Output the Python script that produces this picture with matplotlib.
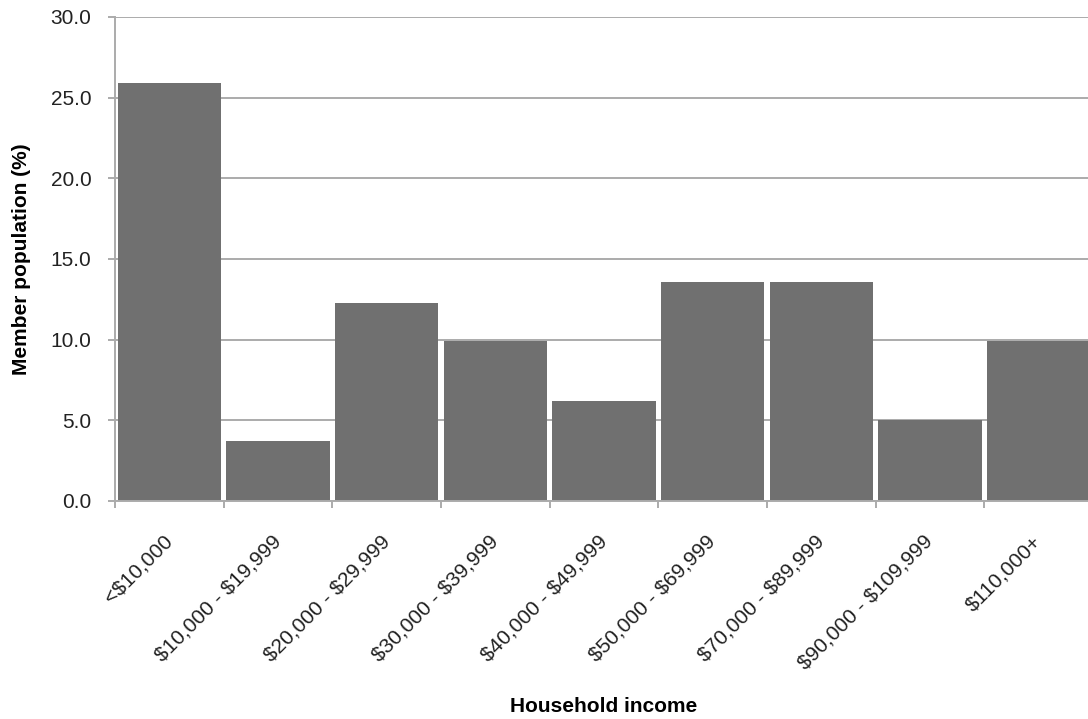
import matplotlib
matplotlib.use("Agg")
import matplotlib.pyplot as plt
import numpy as np

plt.rcParams['font.family'] = ['Liberation Sans', 'DejaVu Sans']

# data
categories = ['<$10,000', '$10,000 - $19,999', '$20,000 - $29,999', '$30,000 - $39,999',
              '$40,000 - $49,999', '$50,000 - $69,999', '$70,000 - $89,999',
              '$90,000 - $109,999', '$110,000+']
population = [25.9, 3.7, 12.3, 9.9, 6.2, 13.6, 13.6, 5.0, 9.9]
y_ticks = [0, 5, 10, 15, 20, 25, 30]

grid_col = '#ababab'

fig = plt.figure(figsize=(10.88, 7.19), dpi=100)
# right edge of the axes runs a bit past the image, as in the reference
ax = fig.add_axes([115 / 1088, 1 - 501 / 719, 978 / 1088, 484 / 719])

x = np.arange(len(categories))
ax.bar(x, population, width=0.95, color='#707070', zorder=2)

ax.set_xlim(-0.5, len(categories) - 0.5)
ax.set_ylim(0, 30)
ax.set_yticks(y_ticks)
ax.set_yticklabels([f"{v:.1f}" for v in y_ticks])
ax.grid(axis='y', color=grid_col, linewidth=1.4, zorder=0)
ax.set_axisbelow(True)

# category labels at bar centres, tick marks at the boundaries
ax.set_xticks(x)
ax.set_xticklabels(categories, rotation=45, ha='right', va='center',
                   rotation_mode='anchor', parse_math=False)
ax.set_xticks(np.arange(len(categories)) - 0.5, minor=True)
ax.tick_params(axis='x', which='major', length=0, pad=27, labelsize=15, colors='#222222')
ax.tick_params(axis='x', which='minor', length=5, width=1.4, color=grid_col)
ax.tick_params(axis='y', length=5, width=1.4, color=grid_col, pad=12, labelsize=15,
               labelcolor='#222222')

for side in ['top', 'right']:
    ax.spines[side].set_visible(False)
for side in ['left', 'bottom']:
    ax.spines[side].set_color(grid_col)
    ax.spines[side].set_linewidth(1.4)

ax.set_ylabel('Member population (%)', fontsize=15, fontweight='bold')
ax.yaxis.set_label_coords(-0.086, 0.5)
ax.set_xlabel('Household income', fontsize=15, fontweight='bold')
ax.xaxis.set_label_coords(0.5, -0.405)

fig.savefig('out.png', dpi=100)
